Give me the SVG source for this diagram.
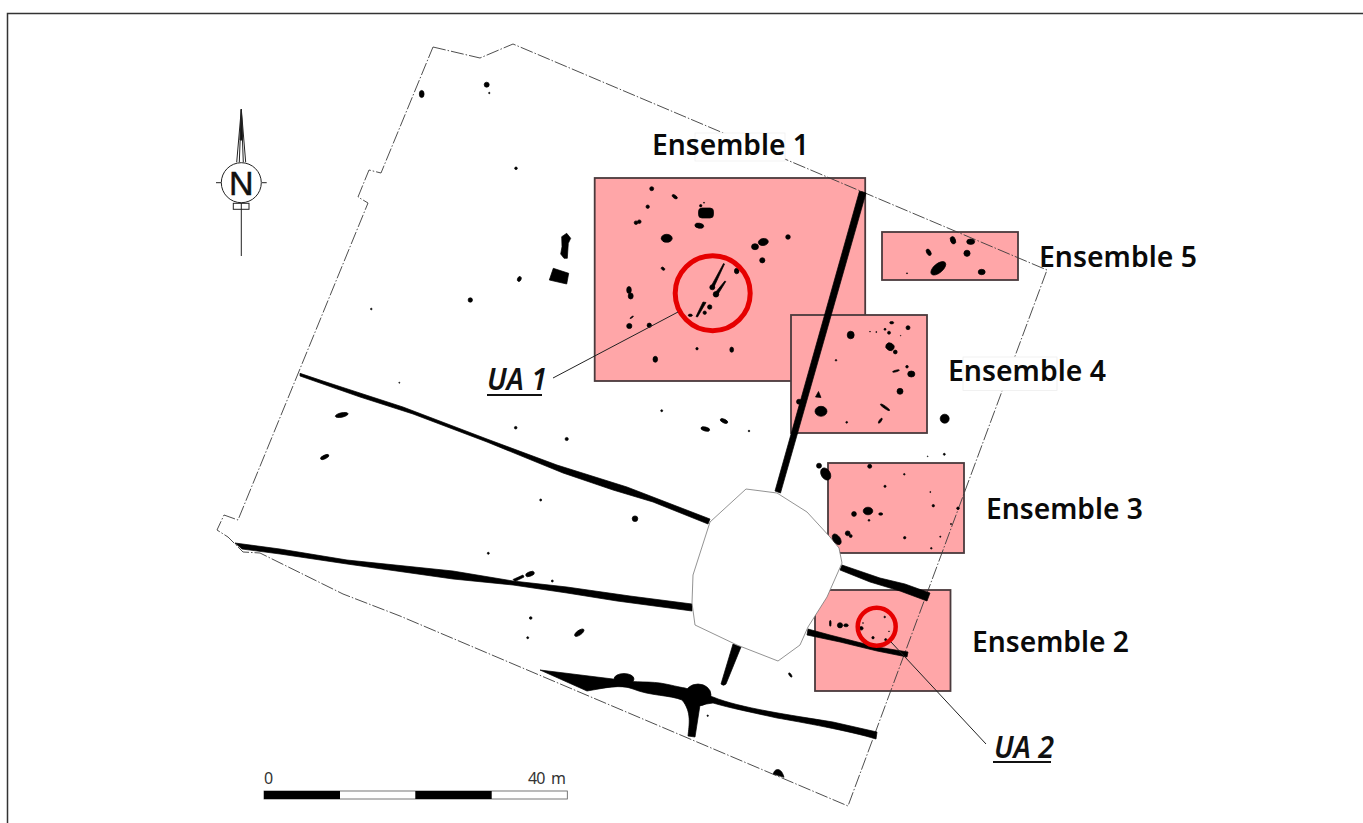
<svg xmlns="http://www.w3.org/2000/svg" width="1363" height="823" viewBox="0 0 1363 823">
<style>
.zone{fill:#ffa6a8;stroke:#4a3a3c;stroke-width:1.800}
.bound{fill:none;stroke:#3a3a3a;stroke-width:0.900;stroke-dasharray:13 2 1.500 2}
.k{fill:#000;stroke:#000;stroke-width:0.700;stroke-linejoin:round}
.ring{fill:none;stroke:#e60000}
.lead{fill:none;stroke:#222;stroke-width:1}
.lab{font-family:"Noto Sans","Liberation Sans",sans-serif;font-size:29px;font-weight:600;fill:#0a0a0a}
.ua{font-family:"Noto Sans","Liberation Sans",sans-serif;font-size:30px;font-weight:600;font-style:italic;fill:#111}
.sc{font-family:"Noto Sans","Liberation Sans",sans-serif;font-size:16px;fill:#333}
</style>
<rect width="1363" height="823" fill="#fff"/>
<path d="M1363 13.500H7.500V823" fill="none" stroke="#333" stroke-width="1.500"/>

<g id="zones">
<rect class="zone" x="594.700" y="178" width="270.500" height="203"/>
<rect class="zone" x="791" y="315" width="136" height="118"/>
<rect class="zone" x="882" y="232" width="136" height="48"/>
<rect class="zone" x="828" y="463" width="136" height="90"/>
<rect class="zone" x="815" y="590" width="135.500" height="101"/>
</g>

<path id="boundary" class="bound" d="M433 47L480 58L513 44L1047 270L848 806L400 616L343 594L260 553L243 552L233 542L228 537L217 530L224 515L238 520L368 203L358 197L369 170L381 173Z"/>

<g id="trenches" class="k">
<path d="M300 373.300L323 381L403 407L487 439L557 465L627 487L710 519L708 524L653 502L613 490L563 473L487 442L413 414L360 397L300 376Z"/>
<path d="M235 543L280 549L347 560L453 571L513 581L567 587L630 596L692 604L692 611L617 601L567 593L513 585L453 579L347 564L280 554L242 549Z"/>
<path d="M842 565L880 578L905 584L930 593L927 601L900 591L870 582L840 570Z"/>
<path d="M808 629L830 635L877 647L908 652L907 657L877 651L840 642L807 635Z"/>
<path d="M859.500 191L866 193L780.500 493L775 491Z"/>
<path d="M733 644L741 647L726 684Q723.500 686.500 721 684Z"/>
<path d="M540 670L613 679C630 683 645 681 660 683C672 685 678 687 685 688L713 697C740 708 790 715 833 722L877 732L876 739C850 731 800 722 777 718C750 712 730 708 713 703L700 705L695 737L688 736C689 725 692 712 682 700C670 695 650 696 633 689C620 684 605 688 587 691Z"/>
<ellipse cx="624" cy="679" rx="10" ry="5.500"/>
<ellipse cx="698" cy="695" rx="13" ry="11"/>
</g>

<path id="pit" d="M746 489L777 493L807 512L830 537L839 548L842 563L827 597L808 627L800 645L778 661L737 645L695 625L692 603L693 575L710 522Z" fill="#fff" stroke="#777" stroke-width="0.800"/>

<g id="features" class="k">
<ellipse cx="651.700" cy="188.700" rx="2" ry="2"/>
<ellipse cx="674.700" cy="196.700" rx="3" ry="1.500" transform="rotate(35 674.700 196.700)"/>
<circle cx="647.700" cy="206.700" r="1.700"/>
<circle cx="636" cy="222.700" r="1.800"/><circle cx="639.300" cy="221.700" r="1.800"/>
<rect x="698.500" y="208" width="15" height="10" rx="3.500"/>
<circle cx="700.700" cy="205.700" r="1.200"/><circle cx="704" cy="202.700" r="0.500"/>
<ellipse cx="699.300" cy="225.700" rx="4.500" ry="2.500" transform="rotate(10 699.300 225.700)"/>
<ellipse cx="666.700" cy="238.300" rx="5.500" ry="4"/>
<ellipse cx="763.300" cy="242" rx="5" ry="3.500" transform="rotate(-10 763.300 242)"/>
<ellipse cx="755" cy="246.700" rx="3.500" ry="3"/>
<circle cx="788" cy="237" r="2.300"/><circle cx="762.300" cy="260.300" r="2.600"/>
<ellipse cx="663" cy="268.700" rx="2" ry="1.300" transform="rotate(35 663 268.700)"/>
<ellipse cx="736.700" cy="271" rx="2.300" ry="2.800"/>
<ellipse cx="629" cy="290" rx="2.300" ry="3.500"/><ellipse cx="630.700" cy="296" rx="2.500" ry="3"/>
<ellipse cx="631.700" cy="317.300" rx="2" ry="0.500" transform="rotate(-35 631.700 317.300)"/>
<circle cx="629.300" cy="326" r="2.600"/><circle cx="649.300" cy="325.300" r="2.200"/>
<ellipse cx="655.300" cy="359.300" rx="2.300" ry="3"/>
<circle cx="697" cy="348.700" r="1.200"/>
<ellipse cx="731.700" cy="349.700" rx="1.900" ry="2.600"/>
<ellipse cx="690.300" cy="315.300" rx="2" ry="1.200"/>
<circle cx="704.700" cy="312.700" r="1.700"/><circle cx="709.700" cy="307" r="2.200"/>
<path d="M711 286.500L723.500 263.500L724.500 264L713.500 288Z"/><circle cx="712.300" cy="287.300" r="2.500"/>
<path d="M715 293L724.800 281L725.800 281.500L717.500 295Z"/><circle cx="716" cy="294.300" r="2.800"/>
<path d="M696 316.500L703 302L706 302.500L697.500 317Z"/>
<ellipse cx="850.700" cy="335" rx="3.500" ry="3.800"/>
<circle cx="836" cy="360.300" r="0.800"/>
<ellipse cx="891.700" cy="322.700" rx="2" ry="1.200"/>
<circle cx="908" cy="327.700" r="2"/><circle cx="885" cy="329.300" r="1"/><circle cx="889" cy="332.700" r="1.500"/>
<circle cx="870" cy="331.700" r="0.400"/><circle cx="876.300" cy="332" r="0.500"/><circle cx="900.700" cy="335.700" r="0.300"/>
<ellipse cx="890" cy="346.700" rx="4.300" ry="3.700" transform="rotate(30 890 346.700)"/>
<circle cx="895.300" cy="352" r="1.900"/><circle cx="907" cy="366.700" r="1.300"/>
<ellipse cx="896" cy="371" rx="3.500" ry="0.800" transform="rotate(-15 896 371)"/>
<ellipse cx="911.300" cy="374" rx="3.600" ry="3"/>
<circle cx="900" cy="391.300" r="3"/>
<ellipse cx="885" cy="407.300" rx="5.500" ry="1.100" transform="rotate(35 885 407.300)"/>
<ellipse cx="880.300" cy="420.700" rx="1" ry="3" transform="rotate(35 880.300 420.700)"/>
<circle cx="846.700" cy="422.300" r="0.900"/>
<ellipse cx="821" cy="411.300" rx="6" ry="5"/>
<path d="M815.500 397L818.500 391.500L821 397.500Z"/>
<circle cx="799" cy="401.700" r="2.500"/>
<circle cx="944.700" cy="418.700" r="4.500"/>
<ellipse cx="953" cy="240.300" rx="2.500" ry="3.800" transform="rotate(-20 953 240.300)"/>
<ellipse cx="970.700" cy="241.700" rx="4" ry="2.700"/>
<ellipse cx="928.700" cy="252.300" rx="2" ry="3.500" transform="rotate(-30 928.700 252.300)"/>
<circle cx="967" cy="253.300" r="3.100"/>
<ellipse cx="938.300" cy="268.300" rx="9" ry="4.500" transform="rotate(-40 938.300 268.300)"/>
<ellipse cx="981.700" cy="272" rx="3.500" ry="2.700"/>
<circle cx="907" cy="273.300" r="0.500"/>
<circle cx="819" cy="465.700" r="2.500"/>
<ellipse cx="825.700" cy="474" rx="4.500" ry="6.500" transform="rotate(-30 825.700 474)"/>
<circle cx="869.700" cy="466.300" r="2"/><circle cx="904.300" cy="474.300" r="0.800"/><circle cx="885" cy="486.300" r="1.100"/>
<circle cx="930.300" cy="492" r="0.500"/><circle cx="944.300" cy="454.300" r="1"/><circle cx="927.700" cy="456.300" r="0.400"/>
<ellipse cx="868" cy="511" rx="4.800" ry="3.800"/>
<circle cx="854" cy="514" r="2.400"/>
<ellipse cx="880.700" cy="514" rx="2" ry="1.200"/>
<circle cx="869" cy="520.300" r="0.900"/><circle cx="933.300" cy="505.700" r="1.200"/><circle cx="958" cy="508.300" r="1.300"/>
<circle cx="951" cy="524" r="0.600"/><circle cx="940.300" cy="536.700" r="0.600"/><circle cx="904.700" cy="537.700" r="1.200"/><circle cx="931.300" cy="548.300" r="0.800"/>
<circle cx="847.700" cy="533.300" r="2.400"/><circle cx="850.700" cy="536" r="1.500"/>
<ellipse cx="836.700" cy="539.300" rx="3.500" ry="6" transform="rotate(-35 836.700 539.300)"/>
<ellipse cx="830.300" cy="623.300" rx="0.800" ry="3"/>
<circle cx="840" cy="625.300" r="2.600"/>
<ellipse cx="846" cy="625.300" rx="2.200" ry="1.500"/>
<circle cx="861.300" cy="628.300" r="1.800"/><circle cx="863" cy="623" r="0.400"/><circle cx="884.700" cy="617" r="0.800"/>
<circle cx="889" cy="631.300" r="0.400"/><circle cx="873" cy="637.700" r="1.200"/><circle cx="885.700" cy="639.700" r="1.100"/>
<ellipse cx="790.300" cy="675" rx="1" ry="2.500" transform="rotate(-35 790.300 675)"/>
<ellipse cx="421.700" cy="94" rx="2.400" ry="3.600"/>
<circle cx="486.700" cy="84.700" r="2.500"/><circle cx="489.300" cy="93" r="0.700"/><circle cx="516" cy="168.300" r="1.300"/>
<ellipse cx="519.300" cy="279" rx="1.800" ry="2.600" transform="rotate(25 519.300 279)"/>
<circle cx="470.300" cy="300" r="2.200"/><circle cx="371.300" cy="309" r="0.800"/>
<path d="M566.700 233.300L570.700 238.300L568.300 243.300L567.300 258.300L564 258.300L560.700 254L562 246.700L561.700 236.700Z"/>
<path d="M553.300 268.300L568.700 273.300L566.700 284L549.300 280Z"/>
<circle cx="399.300" cy="382.700" r="0.500"/>
<ellipse cx="341.700" cy="415" rx="6.500" ry="2.200" transform="rotate(-12 341.700 415)"/>
<ellipse cx="324.700" cy="457" rx="4.500" ry="1.800" transform="rotate(-25 324.700 457)"/>
<circle cx="515.700" cy="427.700" r="1.300"/><circle cx="566.700" cy="439" r="1.600"/><circle cx="661.700" cy="410.700" r="1"/>
<ellipse cx="705.300" cy="429" rx="4.500" ry="2" transform="rotate(15 705.300 429)"/>
<ellipse cx="724" cy="421" rx="4" ry="1.800" transform="rotate(25 724 421)"/>
<circle cx="749" cy="431" r="0.800"/>
<circle cx="540.700" cy="500" r="1"/><circle cx="635" cy="518.700" r="2.800"/><circle cx="488.300" cy="553.300" r="1"/>
<ellipse cx="530" cy="574" rx="4.500" ry="2.200" transform="rotate(-20 530 574)"/>
<path d="M513 579.500L523 575L524 577L515 581.500Z"/>
<circle cx="552.300" cy="581" r="1"/><circle cx="530.700" cy="618" r="1.300"/><circle cx="527.700" cy="637.700" r="1"/>
<ellipse cx="579.300" cy="632.700" rx="5.500" ry="2.300" transform="rotate(-35 579.300 632.700)"/>
<circle cx="707.700" cy="715.700" r="0.700"/>
<path d="M773.300 774C774 769 781 766 784 777.300Z"/>
</g>

<g id="ua-1">
<circle class="ring" cx="712.700" cy="293.300" r="37.500" stroke-width="5"/>
<path class="lead" d="M553 378L678 312"/>
<text class="ua" x="487" y="390" textLength="60" lengthAdjust="spacingAndGlyphs">UA 1</text>
<path d="M487 395H542" stroke="#111" stroke-width="2"/>
</g>
<g id="ua-2">
<circle class="ring" cx="876.700" cy="626.700" r="19" stroke-width="4.500"/>
<path class="lead" d="M891 642L986 744"/>
<text class="ua" x="994" y="758" textLength="60" lengthAdjust="spacingAndGlyphs">UA 2</text>
<path d="M993 762H1051" stroke="#111" stroke-width="2"/>
</g>

<rect x="963" y="357" width="94" height="33.500" fill="#fff" stroke="#eee" stroke-width="0.800"/>
<rect x="695" y="133" width="90" height="28" fill="#fff" stroke="#f0f0f0" stroke-width="0.800"/>

<g id="labels">
<text class="lab" x="652" y="155" textLength="157" lengthAdjust="spacingAndGlyphs">Ensemble 1</text>
<text class="lab" x="1039" y="267" textLength="158" lengthAdjust="spacingAndGlyphs">Ensemble 5</text>
<text class="lab" x="948" y="381" textLength="158" lengthAdjust="spacingAndGlyphs">Ensemble 4</text>
<text class="lab" x="986" y="519" textLength="157" lengthAdjust="spacingAndGlyphs">Ensemble 3</text>
<text class="lab" x="972" y="652" textLength="157" lengthAdjust="spacingAndGlyphs">Ensemble 2</text>
</g>

<g id="north" fill="none" stroke="#222" stroke-width="1">
<path d="M241.300 109.300L236.700 162.300M241.300 109.300L245.700 162.300M241.300 109.300L239.300 162.300M241.300 109.300L243.300 162.300"/>
<path d="M241.300 109.300L240 140H242.600Z" fill="#111"/>
<circle cx="241.300" cy="182.700" r="20"/>
<path d="M216 182.700H221M262 182.700H266.700M241.300 203V256"/>
<rect x="233.300" y="203.300" width="15.700" height="6"/>
<text x="241.300" y="195" text-anchor="middle" font-family="'Liberation Sans',sans-serif" font-size="34" fill="#111" stroke="#111" stroke-width="0.500">N</text>
</g>

<g id="scale">
<rect x="264" y="791" width="303.300" height="8" fill="#fff" stroke="#555" stroke-width="0.800"/>
<rect x="264" y="791" width="76" height="8" fill="#000"/>
<rect x="415.300" y="791" width="76.400" height="8" fill="#000"/>
<text class="sc" x="264" y="784">0</text>
<text class="sc" x="528" y="784" textLength="38" word-spacing="3">40 m</text>
</g>
</svg>
